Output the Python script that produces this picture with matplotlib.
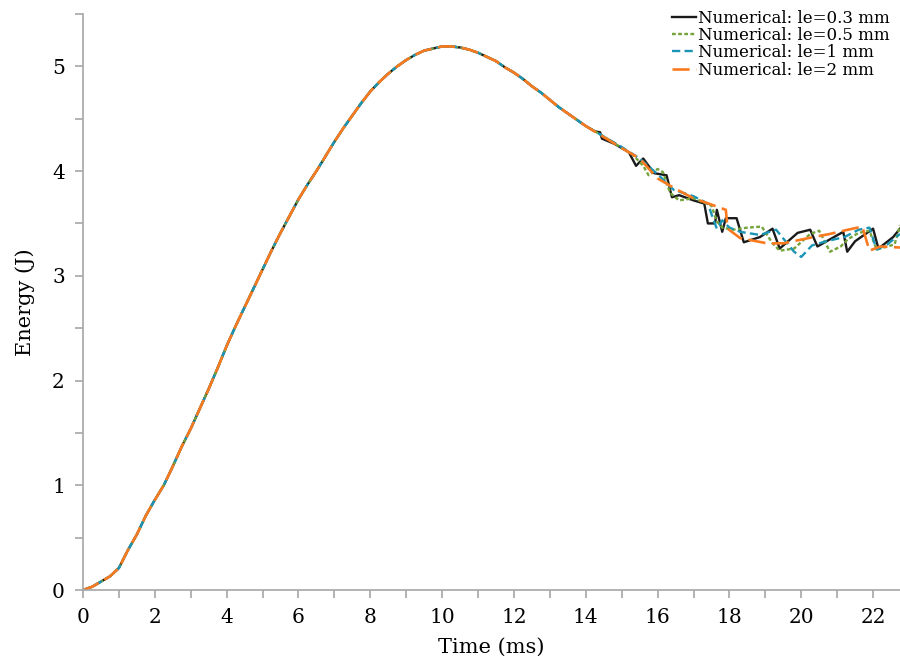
import numpy as np
import matplotlib
matplotlib.use("Agg")
import matplotlib.pyplot as plt
from matplotlib.ticker import MultipleLocator

# smooth rising part, shared by all four runs (ms, J)
t_common = [0, 0.25, 0.5, 0.75, 1.0, 1.25, 1.5, 1.75, 2.0, 2.25, 2.5, 2.75,
            3.0, 3.25, 3.5, 3.75, 4.0, 4.25, 4.5, 4.75, 5.0, 5.25, 5.5, 5.75,
            6.0, 6.25, 6.5, 6.75, 7.0, 7.25, 7.5, 7.75, 8.0, 8.25, 8.5, 8.75,
            9.0, 9.25, 9.5, 9.75, 10.0, 10.25, 10.5, 10.75, 11.0, 11.25, 11.5,
            11.75, 12.0, 12.25, 12.5, 12.75, 13.0, 13.25, 13.5, 13.75, 14.0]
e_common = [0, 0.03, 0.08, 0.13, 0.21, 0.38, 0.53, 0.71, 0.86, 1.00, 1.18, 1.37,
            1.54, 1.73, 1.92, 2.12, 2.33, 2.52, 2.70, 2.88, 3.06, 3.24, 3.41, 3.57,
            3.73, 3.87, 4.00, 4.14, 4.28, 4.41, 4.53, 4.65, 4.76, 4.85, 4.93, 5.00,
            5.06, 5.11, 5.15, 5.17, 5.19, 5.19, 5.18, 5.16, 5.13, 5.09, 5.05,
            4.99, 4.94, 4.88, 4.81, 4.75, 4.68, 4.61, 4.55, 4.49, 4.43]

# noisy tail of each run
t_03 = [14.25, 14.4, 14.45, 14.8, 15.0, 15.2, 15.4, 15.6, 15.9, 16.25, 16.4,
        16.6, 17.0, 17.3, 17.4, 17.6, 17.65, 17.8, 17.9, 18.2, 18.4, 18.85,
        19.2, 19.4, 19.9, 20.25, 20.45, 21.17, 21.28, 21.5, 22.0, 22.15, 22.56,
        22.75]
e_03 = [4.38, 4.37, 4.31, 4.26, 4.22, 4.18, 4.05, 4.12, 3.98, 3.96, 3.75,
        3.77, 3.72, 3.69, 3.50, 3.50, 3.63, 3.42, 3.55, 3.55, 3.32, 3.37,
        3.45, 3.26, 3.41, 3.44, 3.28, 3.42, 3.23, 3.33, 3.45, 3.26, 3.37,
        3.45]

t_05 = [14.3, 14.6, 15.0, 15.3, 15.6, 15.75, 16.0, 16.15, 16.35, 16.6, 17.0,
        17.3, 17.5, 17.65, 17.8, 18.1, 18.5, 18.9, 19.2, 19.4, 19.8, 20.25,
        20.5, 20.8, 21.1, 21.3, 21.6, 21.9, 22.1, 22.6, 22.75]
e_05 = [4.37, 4.31, 4.22, 4.16, 4.05, 3.96, 4.02, 3.99, 3.79, 3.72, 3.74,
        3.70, 3.67, 3.52, 3.46, 3.44, 3.46, 3.47, 3.31, 3.24, 3.26, 3.40,
        3.43, 3.23, 3.28, 3.35, 3.41, 3.43, 3.25, 3.30, 3.48]

t_1 = [14.5, 15.0, 15.5, 16.0, 16.45, 17.0, 17.4, 17.55, 17.65, 17.8, 18.0,
       18.3, 18.85, 19.3, 19.8, 20.0, 20.3, 20.7, 21.2, 21.6, 21.9, 22.1,
       22.4, 22.75]
e_1 = [4.33, 4.23, 4.12, 3.97, 3.82, 3.76, 3.69, 3.54, 3.45, 3.53, 3.46,
       3.42, 3.39, 3.44, 3.23, 3.18, 3.29, 3.33, 3.37, 3.44, 3.46, 3.25,
       3.30, 3.40]

t_2 = [15.0, 15.5, 16.0, 16.5, 17.0, 17.5, 17.9, 17.95, 18.3, 19.05, 19.5,
       20.2, 20.8, 21.3, 21.7, 21.9, 22.2, 22.75]
e_2 = [4.22, 4.12, 3.93, 3.83, 3.74, 3.68, 3.63, 3.45, 3.36, 3.31, 3.31,
       3.36, 3.40, 3.44, 3.47, 3.24, 3.28, 3.27]

labels = ["Numerical: le=0.3 mm", "Numerical: le=0.5 mm",
          "Numerical: le=1 mm", "Numerical: le=2 mm"]

plt.rcParams["font.family"] = ["DejaVu Serif"]

fig = plt.figure(figsize=(9, 6.59), dpi=100)
ax = fig.add_axes([0.0922, 0.1047, 0.9078, 0.8741])

runs = [(t_03, e_03, "#1a1a1a", "-", 1.7),
        (t_05, e_05, "#74a33a", (0, (1.6, 1.0)), 1.7),
        (t_1, e_1, "#1b95b6", (0, (3.5, 1.8)), 1.7),
        (t_2, e_2, "#f97a1f", (0, (6.5, 2.5)), 1.9)]
for (tt, ee, col, ls, lw), lab in zip(runs, labels):
    x = np.concatenate([t_common, tt])
    y = np.concatenate([e_common, ee])
    ax.plot(x, y, color=col, linestyle=ls, linewidth=lw, label=lab)

ax.set_xlim(0, 22.75)
ax.set_ylim(0, 5.5)
ax.xaxis.set_major_locator(MultipleLocator(2))
ax.xaxis.set_minor_locator(MultipleLocator(1))
ax.yaxis.set_major_locator(MultipleLocator(1))
ax.yaxis.set_minor_locator(MultipleLocator(0.5))

for s in ["top", "right"]:
    ax.spines[s].set_visible(False)
for s in ["left", "bottom"]:
    ax.spines[s].set_color("#a6a6a6")
    ax.spines[s].set_linewidth(1.2)
ax.tick_params(which="both", direction="out", length=6, width=1.2,
               color="#a6a6a6", labelsize=14.5, pad=7)

ax.set_xlabel("Time (ms)", fontsize=15, labelpad=8)
ax.set_ylabel("Energy (J)", fontsize=15, labelpad=12)

leg = ax.legend(loc="upper right", bbox_to_anchor=(1.0, 1.025), frameon=False,
                fontsize=12, handlelength=1.4, handletextpad=0.15,
                labelspacing=0.02, borderaxespad=0.2)

fig.savefig("out.png", dpi=100)
